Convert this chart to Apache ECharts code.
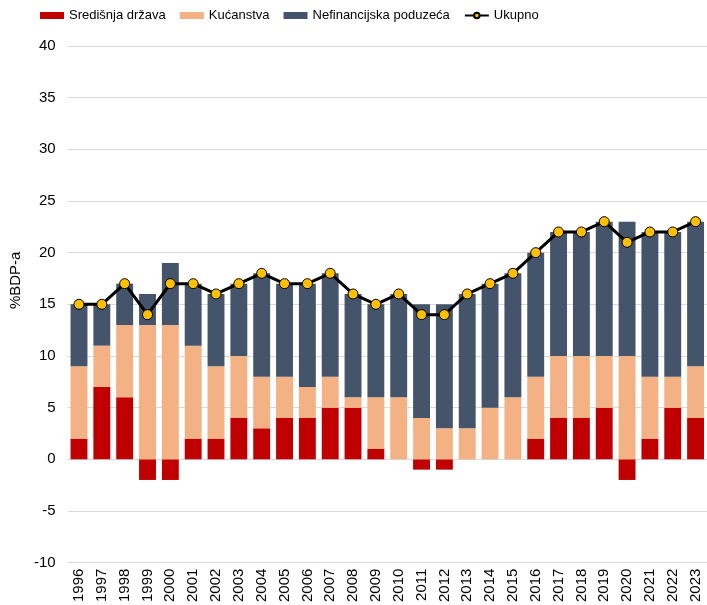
<!DOCTYPE html>
<html>
<head>
<meta charset="utf-8">
<script src="https://cdn.jsdelivr.net/npm/echarts@6/dist/echarts.min.js"></script>
<style>
  html, body { margin: 0; padding: 0; background: #fff; }
  #chart { width: 707px; height: 605px; }
</style>
</head>
<body>
<div id="chart"></div>
<script>
  // godine
  var years = ['1996','1997','1998','1999','2000','2001','2002','2003','2004','2005',
    '2006','2007','2008','2009','2010','2011','2012','2013','2014','2015',
    '2016','2017','2018','2019','2020','2021','2022','2023'];
  // Središnja država
  var drzava = [2, 7, 6, -2, -2, 2, 2, 4, 3, 4, 4, 5, 5, 1, 0, -1, -1, 0, 0, 0, 2, 4, 4, 5, -2, 2, 5, 4];
  // Kućanstva
  var kucanstva = [7, 4, 7, 13, 13, 9, 7, 6, 5, 4, 3, 3, 1, 5, 6, 4, 3, 3, 5, 6, 6, 6, 6, 5, 10, 6, 3, 5];
  // Nefinancijska poduzeća
  var poduzeca = [6, 4, 4, 3, 6, 6, 7, 7, 10, 9, 10, 10, 10, 9, 10, 11, 12, 13, 12, 12, 12, 12, 12, 13, 13, 14, 14, 14];
  // Ukupno
  var ukupno = [15, 15, 17, 14, 17, 17, 16, 17, 18, 17, 17, 18, 16, 15, 16, 14, 14, 16, 17, 18, 20, 22, 22, 23, 21, 22, 22, 23];

  var chart = echarts.init(document.getElementById('chart'));

  var option = {
    animation: false,
    textStyle: { fontFamily: 'Liberation Sans, Arial, sans-serif' },
    legend: {
      top: 9,
      left: 40,
      padding: 0,
      itemWidth: 24,
      itemHeight: 7,
      itemGap: 14,
      textStyle: { fontSize: 13, color: '#000' },
      data: [
        { name: 'Središnja država', icon: 'rect' },
        { name: 'Kućanstva', icon: 'rect' },
        { name: 'Nefinancijska poduzeća', icon: 'rect' },
        'Ukupno'
      ]
    },
    grid: {
      left: 63.5,
      right: -3,
      top: 46,
      bottom: 42
    },
    xAxis: {
      type: 'category',
      data: years,
      axisLine: { onZero: false, show: false },
      axisTick: { show: false },
      axisLabel: { rotate: 90, fontSize: 15, color: '#000', margin: 6 }
    },
    yAxis: {
      type: 'value',
      min: -10,
      max: 40,
      interval: 5,
      name: '%BDP-a',
      nameLocation: 'middle',
      nameGap: 44,
      nameTextStyle: { fontSize: 15, color: '#000', padding: [0, 0, 0, 48] },
      axisLabel: { fontSize: 15, color: '#000', margin: 12 },
      axisLine: { show: false },
      axisTick: { show: false },
      splitLine: { lineStyle: { color: '#d9d9d9', width: 1 } }
    },
    series: [
      {
        name: 'Središnja država',
        type: 'bar',
        stack: 'ukupno',
        barCategoryGap: '26%',
        itemStyle: { color: '#C00000' },
        data: drzava
      },
      {
        name: 'Kućanstva',
        type: 'bar',
        stack: 'ukupno',
        itemStyle: { color: '#F4B183' },
        data: kucanstva
      },
      {
        name: 'Nefinancijska poduzeća',
        type: 'bar',
        stack: 'ukupno',
        itemStyle: { color: '#44546A' },
        data: poduzeca
      },
      {
        name: 'Ukupno',
        type: 'line',
        symbol: 'circle',
        symbolSize: 10,
        lineStyle: { color: '#000', width: 3 },
        itemStyle: { color: '#FFC000', borderColor: '#000', borderWidth: 1 },
        z: 5,
        data: ukupno
      }
    ]
  };

  chart.setOption(option);
</script>
</body>
</html>
